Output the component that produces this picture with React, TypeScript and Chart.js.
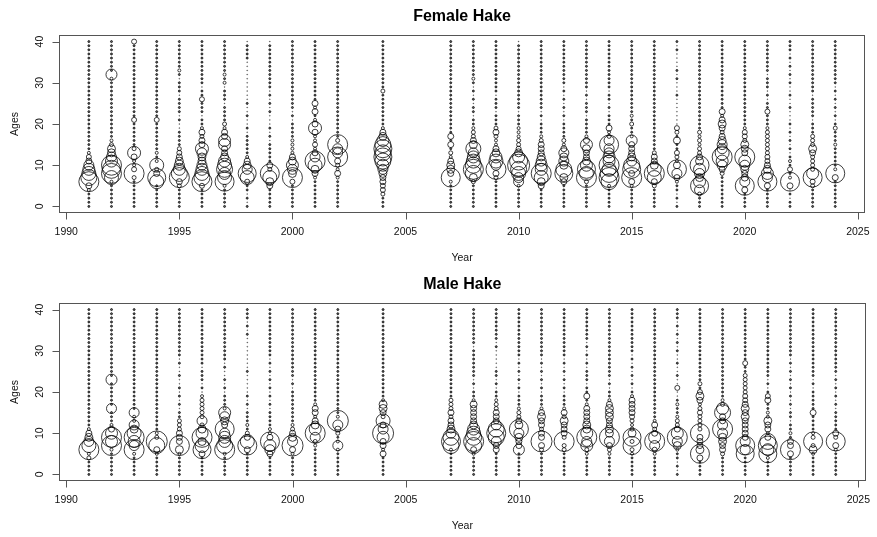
import React, { useEffect, useRef } from "react";
import { Chart, registerables } from "chart.js";

Chart.register(...registerables);

// Survey years (columns)
const years = [
  1991, 1992, 1993, 1994, 1995, 1996, 1997, 1998, 1999, 2000, 2001, 2002, 2004,
  2007, 2008, 2009, 2010, 2011, 2012, 2013, 2014, 2015, 2016, 2017, 2018, 2019,
  2020, 2021, 2022, 2023, 2024,
];
// Ages (rows)
const ages = [
  0, 1, 2, 3, 4, 5, 6, 7, 8, 9, 10, 11, 12, 13, 14, 15, 16, 17, 18, 19, 20, 21,
  22, 23, 24, 25, 26, 27, 28, 29, 30, 31, 32, 33, 34, 35, 36, 37, 38, 39, 40,
];
const xTicks = [1990, 1995, 2000, 2005, 2010, 2015, 2020, 2025];
const yTicks = [0, 10, 20, 30, 40];

// Bubble magnitudes per year, ages 0..40 (base-36 digits, grouped by 5 ages)
const femaleComp = [
  "22223 6kgec a6532 22222 22222 22222 22222 22222 2",
  "22222 23eki kca88 43222 22222 22222 23b22 22222 2",
  "22222 224k5 336d4 22222 25222 22222 22222 22222 5",
  "22222 2ei64 e3232 22222 25222 22222 22222 22222 2",
  "22222 46kgc a8654 22221 12122 22122 21232 22222 2",
  "22222 5kgec a88ad 66463 22122 25221 22222 22222 2",
  "22222 3jecg ec866 cc663 42222 12221 32322 22222 2",
  "21212 25eia 86322 22212 11211 21111 11111 12222 1",
  "22222 68ej4 62222 21212 11121 21212 22222 22222 1",
  "22222 25k8a c8633 33222 21212 22222 22222 22222 2",
  "22222 22368 eka63 5336d 63263 62222 22222 22222 2",
  "22222 22363 46kaa k4222 22222 22222 22222 22222 2",
  "22245 5668a cgigi gc863 22222 22242 22222 22222 2",
  "22222 23j68 86342 62622 22222 22222 22222 22222 2",
  "22222 248gk gecaf 86443 22122 12121 23222 22222 2",
  "22222 2246k aec86 33464 22212 22122 22222 22222 2",
  "22222 3aaeg mic85 44333 22212 22222 22222 22222 1",
  "22222 68ekc ca866 64322 21212 22222 22222 22222 2",
  "22222 268ig 8a8a6 34222 21212 12121 22222 22222 2",
  "22222 24kei c8668 c6322 22122 21212 22222 22222 2",
  "22222 3gkie kccaa ja436 22212 12212 22222 22222 2",
  "22222 36k6i ga866 6b322 42322 22222 22222 22222 2",
  "22222 46eke 86642 22222 22222 22222 22222 22222 2",
  "21212 236aj 73452 27245 11111 11211 12121 11121 2",
  "2224a ic8ac j8644 34342 22222 22222 22222 22222 2",
  "22222 22246 ackea a8646 86362 22222 22222 22222 2",
  "22226 ja768 ack67 84553 22222 22222 22222 22222 2",
  "22222 6jac8 65544 44443 22252 21212 22122 22222 2",
  "22121 6j325 23212 12121 21112 11211 21212 12122 2",
  "22222 45jc4 44468 44422 21222 22122 22222 22222 2",
  "22222 226j3 22222 32224 21212 12121 22222 22222 2",
];

const maleComp = [
  "22224 3kea8 63222 22222 22222 22222 22222 22222 2",
  "22222 23kck c6322 2a222 222b2 22222 22222 22222 2",
  "22222 3kack e8a33 a2222 22222 22222 22222 22222 2",
  "22222 36gl4 32222 22222 22222 22222 22222 22222 2",
  "22222 38k66 64442 21212 12112 11212 22222 22222 2",
  "22222 6ie8k c84a4 44443 12122 21222 22222 22222 2",
  "22222 3kgcc aj68a c3222 12121 12122 22222 22222 2",
  "22222 26je6 42322 21212 11111 21111 11112 12122 2",
  "22222 6acj6 33222 21212 12121 21212 22222 22222 2",
  "22222 36la8 64322 22222 21212 22222 22222 22222 2",
  "22222 2234a kc863 66322 22222 22222 22222 22222 2",
  "22222 23a32 46al3 22222 22222 22222 22222 22222 2",
  "22222 6366c la6e4 68832 22222 22222 22222 22222 2",
  "22222 23gjg a8664 64442 22222 22222 22222 22222 2",
  "22222 36gkg ec866 66732 21212 22222 21222 22222 2",
  "22222 266ag jga66 64432 21212 21111 12122 22222 2",
  "22222 2b668 aj864 43222 12121 21212 22222 22222 2",
  "22222 246l6 64668 63222 12121 21212 22222 22222 2",
  "22222 244k4 66684 63222 12121 21212 22222 22222 2",
  "22222 34cak c8866 66326 22122 21212 12122 22222 2",
  "22222 346ak 88668 88632 21212 22222 22222 22222 2",
  "22222 34i4i 84345 66663 21212 12121 22222 22222 2",
  "22222 35akc 64632 22222 22222 22222 22222 22222 2",
  "21212 238ak c6443 22321 15112 11211 21212 12122 2",
  "22226 j8666 j4444 54368 52422 22222 22222 22222 2",
  "22222 46688 aka66 gc432 22222 22222 22222 22222 2",
  "22222 iaja6 66668 68655 44444 22522 22222 22222 2",
  "22223 icjg6 36683 32265 21212 22222 22222 22222 2",
  "22222 6k662 32212 21212 12121 21212 22222 22222 2",
  "22222 384j4 32222 62222 21212 22222 22222 22222 2",
  "22222 236j4 62222 21212 12121 22222 22222 22222 2",
];

const FONT = '"Liberation Sans", Arial, Helvetica, sans-serif';
const RADIUS_PER_UNIT = 0.5;

function buildPoints(comp: string[]) {
  const pts: { x: number; y: number; r: number }[] = [];
  comp.forEach((row, i) => {
    const vals = row.replace(/\s/g, "").split("").map((c) => parseInt(c, 36));
    vals.forEach((v, j) => {
      if (v > 0) pts.push({ x: years[i], y: ages[j], r: v * RADIUS_PER_UNIT });
    });
  });
  return pts;
}

const rAxesPlugin = {
  id: "rAxes",
  afterDraw(chart: any, _args: any, opts: any) {
    const { ctx, chartArea: a, scales } = chart;
    const xs = scales.x;
    const ys = scales.y;
    ctx.save();
    ctx.strokeStyle = "#555";
    ctx.lineWidth = 1;
    const L = Math.round(a.left) + 0.5;
    const T = Math.round(a.top) + 0.5;
    const R = Math.round(a.right) - 0.5;
    const B = Math.round(a.bottom) - 0.5;
    ctx.strokeRect(L, T, R - L, B - T);

    ctx.fillStyle = "#111";
    ctx.font = `10.5px ${FONT}`;
    // x axis
    ctx.beginPath();
    const x0 = Math.round(xs.getPixelForValue(xTicks[0])) + 0.5;
    const x1 = Math.round(xs.getPixelForValue(xTicks[xTicks.length - 1])) + 0.5;
    ctx.moveTo(x0, B);
    ctx.lineTo(x1, B);
    xTicks.forEach((v) => {
      const px = Math.round(xs.getPixelForValue(v)) + 0.5;
      ctx.moveTo(px, B);
      ctx.lineTo(px, B + 7);
    });
    ctx.stroke();
    ctx.textAlign = "center";
    ctx.textBaseline = "middle";
    xTicks.forEach((v) => {
      const px = xs.getPixelForValue(v);
      ctx.fillText(String(v), px, B + 20);
    });
    // y axis
    ctx.beginPath();
    const y0 = Math.round(ys.getPixelForValue(yTicks[0])) + 0.5;
    const y1 = Math.round(ys.getPixelForValue(yTicks[yTicks.length - 1])) + 0.5;
    ctx.moveTo(L, y0);
    ctx.lineTo(L, y1);
    yTicks.forEach((v) => {
      const py = Math.round(ys.getPixelForValue(v)) + 0.5;
      ctx.moveTo(L, py);
      ctx.lineTo(L - 7, py);
    });
    ctx.stroke();
    yTicks.forEach((v) => {
      const py = ys.getPixelForValue(v);
      ctx.save();
      ctx.translate(L - 19, py);
      ctx.rotate(-Math.PI / 2);
      ctx.fillText(String(v), 0, 0);
      ctx.restore();
    });
    // axis titles
    ctx.fillText("Year", (a.left + a.right) / 2, B + 46);
    ctx.save();
    ctx.translate(15, (a.top + a.bottom) / 2);
    ctx.rotate(-Math.PI / 2);
    ctx.fillText("Ages", 0, 0);
    ctx.restore();
    // main title
    ctx.fillStyle = "#000";
    ctx.font = `bold 16px ${FONT}`;
    ctx.fillText(opts.title, (a.left + a.right) / 2, 17);
    ctx.restore();
  },
};

function Panel({ title, comp }: { title: string; comp: string[] }) {
  const ref = useRef<HTMLCanvasElement | null>(null);
  useEffect(() => {
    if (!ref.current) return;
    const chart = new Chart(ref.current, {
      type: "bubble",
      data: {
        datasets: [
          {
            data: buildPoints(comp),
            borderColor: (c: any) =>
              c.raw && c.raw.r <= 0.5 ? "rgba(0,0,0,0.3)" : "rgba(0,0,0,0.85)",
            backgroundColor: (c: any) =>
              c.raw && c.raw.r <= 1 ? "rgba(0,0,0,0.6)" : "rgba(0,0,0,0)",
            borderWidth: 0.9,
          },
        ],
      },
      options: {
        animation: false,
        responsive: false,
        devicePixelRatio: 1,
        layout: { padding: { left: 59, right: 5, top: 35, bottom: 55 } },
        scales: {
          x: { type: "linear", min: 1989.68, max: 2025.32, display: false },
          y: { type: "linear", min: -1.6, max: 41.6, display: false },
        },
        plugins: {
          legend: { display: false },
          tooltip: { enabled: false },
          rAxes: { title },
        } as any,
      },
      plugins: [rAxesPlugin],
    });
    return () => chart.destroy();
  }, [title, comp]);
  return <canvas ref={ref} width={877} height={268} style={{ display: "block" }} />;
}

export default function App() {
  return (
    <div
      style={{
        position: "absolute",
        left: 0,
        top: 0,
        width: 877,
        height: 537,
        background: "#fff",
      }}
    >
      <Panel title="Female Hake" comp={femaleComp} />
      <Panel title="Male Hake" comp={maleComp} />
    </div>
  );
}
